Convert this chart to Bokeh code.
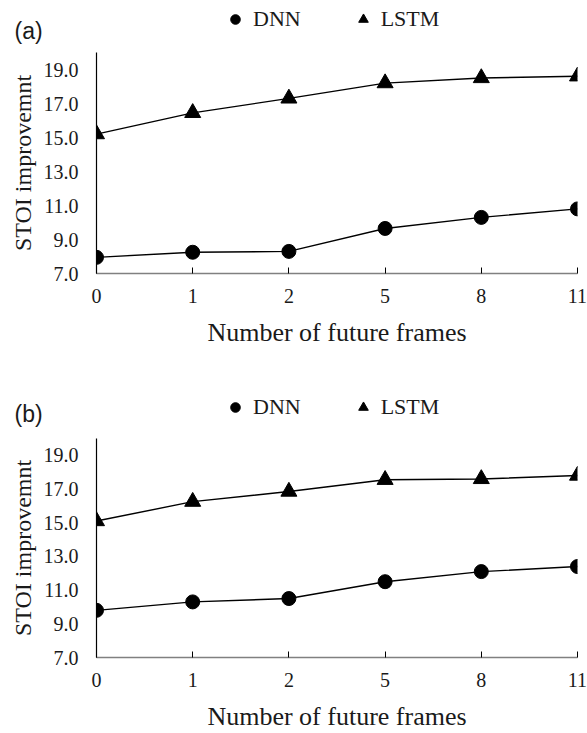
from bokeh.plotting import figure
from bokeh.layouts import column
from bokeh.models import Range1d, FixedTicker, Legend, LegendItem, Label
from bokeh.embed import file_html
from bokeh.resources import INLINE

frames = ["0", "1", "2", "5", "8", "11"]
dnn_a = [7.95, 8.25, 8.3, 9.65, 10.3, 10.8]
lstm_a = [15.2, 16.45, 17.3, 18.2, 18.5, 18.6]
dnn_b = [9.8, 10.3, 10.5, 11.5, 12.1, 12.4]
lstm_b = [15.1, 16.25, 16.85, 17.55, 17.6, 17.8]
y_ticks = [7, 9, 11, 13, 15, 17, 19]
series_names = ["DNN", "LSTM"]

SERIF = "Liberation Serif"
TXT = "#1a1a1a"
W = 587
NAN = float("nan")


def header(tag, H, legend_y, tag_y):
    h = figure(width=W, height=H, output_backend="svg", toolbar_location=None,
               x_axis_type=None, y_axis_type=None,
               x_range=Range1d(0, W), y_range=Range1d(H, 0),
               min_border_left=0, min_border_right=0,
               min_border_top=0, min_border_bottom=0, frame_align=False)
    h.outline_line_color = None
    # legend-only renderers (no visible points)
    r1 = h.scatter(x=[NAN], y=[NAN], marker="circle", size=11,
                   fill_color="black", line_color="black")
    r2 = h.scatter(x=[NAN], y=[NAN], marker="triangle", size=13,
                   fill_color="black", line_color="black")
    legend = Legend(items=[LegendItem(label=series_names[0], renderers=[r1]),
                           LegendItem(label=series_names[1], renderers=[r2])],
                    orientation="horizontal", location=(223, legend_y),
                    label_text_font=SERIF, label_text_font_size="22px",
                    label_text_color=TXT,
                    glyph_width=24, glyph_height=24, label_standoff=6,
                    spacing=50, padding=0, margin=0,
                    border_line_color=None, background_fill_alpha=0)
    h.add_layout(legend, "center")
    h.add_layout(Label(x=14, y=tag_y, text=tag,
                       text_font="Liberation Sans", text_font_size="23px",
                       text_color=TXT, text_baseline="middle"))
    return h


def panel(dnn, lstm, H, bottom):
    xs = list(range(len(frames)))
    p = figure(width=W, height=H, output_backend="svg", toolbar_location=None,
               x_range=Range1d(0, len(frames) - 1), y_range=Range1d(7, 20),
               min_border_left=96, min_border_right=10,
               min_border_top=0, min_border_bottom=bottom, frame_align=False)
    p.outline_line_color = None
    p.grid.visible = False
    p.background_fill_color = "white"

    p.line(xs, dnn, line_color="black", line_width=1.4)
    p.scatter(xs, dnn, marker="circle", size=14, fill_color="black", line_color="black")
    p.line(xs, lstm, line_color="black", line_width=1.4)
    p.scatter(xs, lstm, marker="triangle", size=16, fill_color="black", line_color="black")

    xa = p.xaxis[0]
    xa.ticker = FixedTicker(ticks=xs)
    xa.major_label_overrides = {i: f for i, f in enumerate(frames)}
    xa.axis_line_color = "#808080"
    xa.axis_line_width = 1.6
    xa.major_tick_in = 6
    xa.major_tick_out = 0
    xa.major_tick_line_color = "black"
    xa.minor_tick_line_color = None
    xa.major_label_text_font = SERIF
    xa.major_label_text_font_size = "20px"
    xa.major_label_text_color = TXT
    xa.major_label_standoff = 15
    xa.axis_label = "Number of future frames"
    xa.axis_label_text_font = SERIF
    xa.axis_label_text_font_size = "26px"
    xa.axis_label_text_font_style = "normal"
    xa.axis_label_text_color = TXT
    xa.axis_label_standoff = 12

    ya = p.yaxis[0]
    ya.ticker = FixedTicker(ticks=y_ticks)
    ya.major_label_overrides = {t: f"{t:.1f}" for t in y_ticks}
    ya.axis_line_color = "black"
    ya.axis_line_width = 1.2
    ya.major_tick_in = 0
    ya.major_tick_out = 0
    ya.minor_tick_line_color = None
    ya.major_label_text_font = SERIF
    ya.major_label_text_font_size = "20px"
    ya.major_label_text_color = TXT
    ya.major_label_standoff = 18
    ya.axis_label = "STOI improvemnt"
    ya.axis_label_text_font = SERIF
    ya.axis_label_text_font_size = "24px"
    ya.axis_label_text_font_style = "normal"
    ya.axis_label_text_color = TXT
    ya.axis_label_standoff = 5
    return p


ha = header("(a)", H=52, legend_y=20, tag_y=30)
pa = panel(dnn_a, lstm_a, H=314, bottom=93)
hb = header("(b)", H=72, legend_y=18, tag_y=47)
pb = panel(dnn_b, lstm_b, H=295, bottom=74)

layout = column(ha, pa, hb, pb, spacing=0)
open("out.html", "w").write(file_html(layout, INLINE))
